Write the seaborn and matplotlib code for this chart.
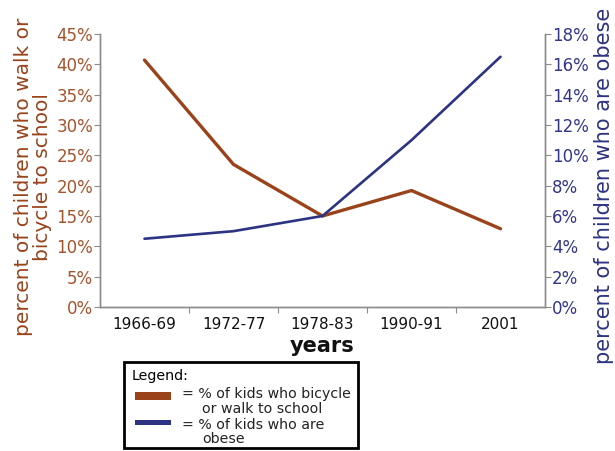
import matplotlib
matplotlib.use("Agg")
import matplotlib.pyplot as plt
import seaborn as sns
import pandas as pd
from matplotlib.patches import Rectangle
from matplotlib.ticker import FixedLocator, PercentFormatter

# Data
periods = ["1966-69", "1972-77", "1978-83", "1990-91", "2001"]
walk_bike_pct = [40.7, 23.5, 15.0, 19.2, 12.9]
obese_pct = [4.5, 5.0, 6.0, 11.0, 16.5]
left_ticks = [0, 5, 10, 15, 20, 25, 30, 35, 40, 45]
right_ticks = [0, 2, 4, 6, 8, 10, 12, 14, 16, 18]

BROWN = "#9a421a"
BROWN_TXT = "#a5532c"
NAVY = "#2d3383"
NAVY_TXT = "#33358a"
GREY = "#8c8c8c"

df_walk = pd.DataFrame({"period": periods, "pct": walk_bike_pct})
df_obese = pd.DataFrame({"period": periods, "pct": obese_pct})

sns.set_theme(style="white")
plt.rcParams["font.family"] = ["DejaVu Sans"]

fig = plt.figure(figsize=(6.15, 4.51), dpi=100)
ax = fig.add_axes([100 / 615, 144 / 451, 445 / 615, 273 / 451])
ax2 = ax.twinx()

sns.lineplot(data=df_walk, x="period", y="pct", ax=ax, color=BROWN,
             linewidth=2.4, sort=False)
sns.lineplot(data=df_obese, x="period", y="pct", ax=ax2, color=NAVY,
             linewidth=1.9, sort=False)

ax.set_xlim(-0.5, 4.5)
ax.set_ylim(0, 45)
ax2.set_ylim(0, 18)

# Category labels centred, tick marks between categories
ax.set_xticks(range(len(periods)))
ax.set_xticklabels(periods, fontsize=11, color="#111111")
ax.xaxis.set_minor_locator(FixedLocator([0.5, 1.5, 2.5, 3.5]))
ax.tick_params(axis="x", which="major", length=0, pad=7)
ax.tick_params(axis="x", which="minor", length=4, width=0.8, color=GREY,
               bottom=True, direction="out")

ax.set_yticks(left_ticks)
ax.yaxis.set_major_formatter(PercentFormatter(decimals=0))
ax.tick_params(axis="y", length=4, width=0.8, color=GREY, labelsize=12,
               labelcolor=BROWN_TXT, left=True, pad=1, direction="out")

ax2.set_yticks(right_ticks)
ax2.yaxis.set_major_formatter(PercentFormatter(decimals=0))
ax2.tick_params(axis="y", length=4, width=0.8, color=GREY, labelsize=12,
                labelcolor=NAVY_TXT, right=True, pad=1, direction="out")

for a in (ax, ax2):
    a.spines["top"].set_visible(False)
    for s in ("left", "right", "bottom"):
        a.spines[s].set_color(GREY)
        a.spines[s].set_linewidth(1.0)
    a.set_xlabel("")
    a.set_ylabel("")

# Axis titles
fig.text(322 / 615, 1 - 346 / 451, "years", ha="center", va="center",
         fontsize=15, fontweight="bold", color="#111111")
fig.text(33 / 615, 1 - 177 / 451,
         "percent of children who walk or\nbicycle to school",
         rotation=90, ha="center", va="center", fontsize=14.5,
         color=BROWN, linespacing=1.0, multialignment="center")
fig.text(604 / 615, 1 - 186 / 451, "percent of children who are obese",
         rotation=90, ha="center", va="center", fontsize=15, color=NAVY)

# Legend box
fig.patches.append(Rectangle((124 / 615, 1 - 448 / 451), 234 / 615, 86 / 451,
                             transform=fig.transFigure, facecolor="white",
                             edgecolor="black", linewidth=2))
fig.text(132 / 615, 1 - 376 / 451, "Legend:", ha="left", va="center",
         fontsize=10.3, color="black")
fig.patches.append(Rectangle((135 / 615, 1 - 400 / 451), 36 / 615, 8 / 451,
                             transform=fig.transFigure, facecolor=BROWN,
                             edgecolor="none"))
fig.patches.append(Rectangle((135 / 615, 1 - 425 / 451), 36 / 615, 5 / 451,
                             transform=fig.transFigure, facecolor=NAVY,
                             edgecolor="none"))
fig.text(182 / 615, 1 - 394 / 451, "= % of kids who bicycle", ha="left",
         va="center", fontsize=10.2, color="#222222")
fig.text(202 / 615, 1 - 409 / 451, "or walk to school", ha="left",
         va="center", fontsize=10.2, color="#222222")
fig.text(182 / 615, 1 - 425 / 451, "= % of kids who are", ha="left",
         va="center", fontsize=10.2, color="#222222")
fig.text(202 / 615, 1 - 439 / 451, "obese", ha="left",
         va="center", fontsize=10.2, color="#222222")

fig.savefig("out.png", dpi=100, facecolor="white")
